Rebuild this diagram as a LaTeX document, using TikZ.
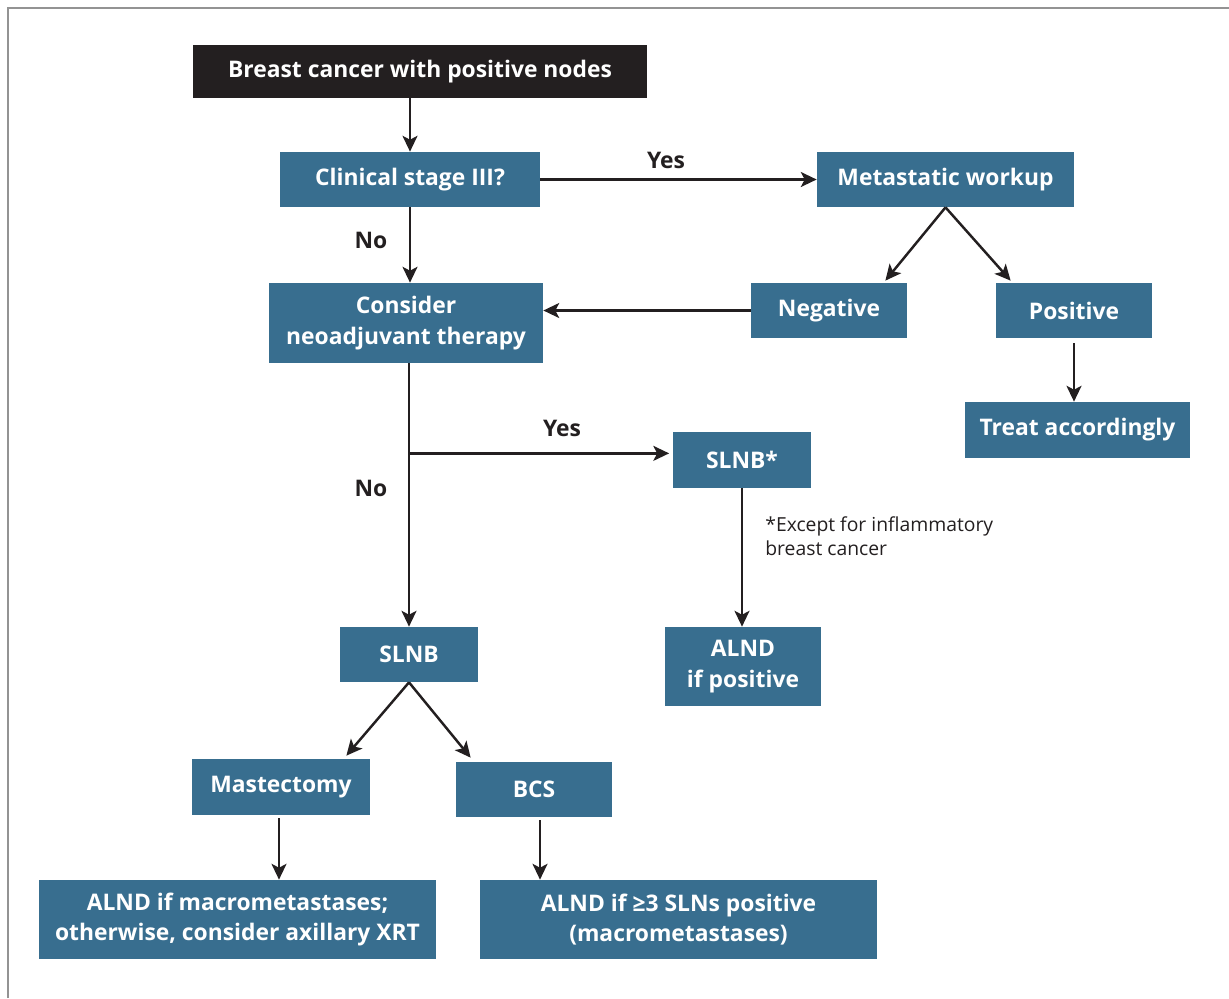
\documentclass[tikz,border=0pt]{standalone}
\usepackage{fontspec}
\setmainfont{Open Sans}
\usepackage{tikz}
\usetikzlibrary{arrows.meta, calc}
\definecolor{boxblue}{HTML}{386E8F}
\definecolor{ink}{HTML}{231F20}

\begin{document}
\begin{tikzpicture}[
            x=0.02cm, y=-0.02cm,
            box/.style = {fill=boxblue, text=white, inner sep=0pt, align=center,
                          font=\fontsize{13}{17.5}\selectfont\bfseries},
            arr/.style = {draw=ink, line width=1.4pt, -{Stealth[length=9pt, width=8.5pt, inset=2.2pt]}},
            lbl/.style = {text=ink, font=\fontsize{13}{16}\selectfont\bfseries}
                        ]
            \useasboundingbox (0,0) rectangle (1229,998);
            % frame
            \draw[gray!85, line width=1.7pt] (8,998) -- (8,8) -- (1229,8);
            % boxes
            \node[box, fill=ink, minimum width=454*0.02cm, minimum height=53*0.02cm] (top) at (420,71.5) {Breast cancer with positive nodes};
            \node[box, minimum width=260*0.02cm, minimum height=55*0.02cm] (stage) at (410,179.5) {Clinical stage III?};
            \node[box, minimum width=257*0.02cm, minimum height=55*0.02cm] (workup) at (945.5,179.5) {Metastatic workup};
            \node[box, minimum width=274*0.02cm, minimum height=80*0.02cm] (neo) at (406,323) {Consider\\neoadjuvant therapy};
            \node[box, minimum width=156*0.02cm, minimum height=55*0.02cm] (neg) at (829,310.5) {Negative};
            \node[box, minimum width=156*0.02cm, minimum height=55*0.02cm] (pos) at (1074,310.5) {Positive};
            \node[box, minimum width=225*0.02cm, minimum height=56*0.02cm] (treat) at (1077.5,430) {Treat accordingly};
            \node[box, minimum width=138*0.02cm, minimum height=56*0.02cm] (slnbstar) at (742,460) {SLNB*};
            \node[box, minimum width=156*0.02cm, minimum height=79*0.02cm] (alndpos) at (743,666.5) {ALND\\if positive};
            \node[box, minimum width=138*0.02cm, minimum height=55*0.02cm] (slnb) at (409,654.5) {SLNB};
            \node[box, minimum width=178*0.02cm, minimum height=56*0.02cm] (mast) at (281,787) {Mastectomy};
            \node[box, minimum width=156*0.02cm, minimum height=55*0.02cm] (bcs) at (534,789.5) {BCS};
            \node[box, minimum width=397*0.02cm, minimum height=79*0.02cm] (alndmacro) at (237.5,919.5) {ALND if macrometastases;\\otherwise, consider axillary XRT};
            \node[box, minimum width=397*0.02cm, minimum height=79*0.02cm] (alndthree) at (678.5,919.5) {ALND if ≥3 SLNs positive\\(macrometastases)};
            % footnote
            \node[anchor=north west, align=left, inner sep=0pt, text=ink,
                  font=\fontsize{11}{14}\selectfont] (note) at (765,516) {*Except for inflammatory\\breast cancer};
            % labels
            \node[lbl] (yesa) at (666,160) {Yes};
            \node[lbl] (noa) at (371,240) {No};
            \node[lbl] (yesb) at (562,428) {Yes};
            \node[lbl] (nob) at (371,488) {No};
            % arrows
            \draw[arr] (top.south -| stage.north) -- (stage.north);
            \draw[arr] (stage.east) -- (workup.west);
            \draw[arr] (stage.south) -- (stage.south |- neo.north);
            \draw[arr] (workup.south) -- ($(neg.north east)+(-22,-2)$);
            \draw[arr] (workup.south) -- ($(pos.north west)+(15,-2)$);
            \draw[arr] (neg.west) -- (neg.west -| neo.east);
            \draw[arr] ($(pos.south)+(0,5)$) -- (treat.north -| pos.south);
            \draw[arr] (neo.south -| slnb.north) -- (slnb.north);
            \coordinate (branch) at ($(neo.south -| slnb.north)+(0,90)$);
            \draw[arr, shorten >=2pt] (branch) -- (branch -| slnbstar.west);
            \draw[arr] (slnbstar.south) -- (alndpos.north -| slnbstar.south);
            \draw[arr] (slnb.south) -- ($(mast.north east)+(-24,-3)$);
            \draw[arr] (slnb.south) -- ($(bcs.north west)+(15,-4)$);
            \draw[arr] ($(mast.south)+(-2,3)$) -- (alndmacro.north -| 279,0);
            \draw[arr] ($(bcs.south)+(6,3)$) -- (alndthree.north -| 540,0);
\end{tikzpicture}
\end{document}
